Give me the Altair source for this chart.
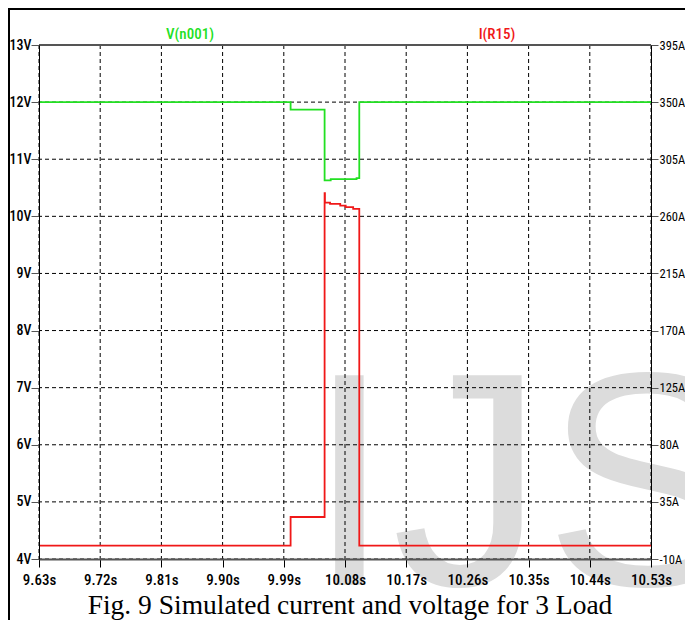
import altair as alt
import pandas as pd

# ---- data ----
x_ticks = [9.63, 9.72, 9.81, 9.90, 9.99, 10.08, 10.17, 10.26, 10.35, 10.44, 10.53]
v_ticks = [4, 5, 6, 7, 8, 9, 10, 11, 12, 13]
i_ticks = [-10, 35, 80, 125, 170, 215, 260, 305, 350, 395]

v_time = [9.63, 10.000, 10.050, 10.059, 10.097, 10.101, 10.53]
v_vals = [12.0, 11.87, 10.63, 10.65, 10.67, 12.0, 12.0]

i_time = [9.63, 10.000, 10.050, 10.0505, 10.058, 10.073, 10.081, 10.092, 10.101, 10.53]
i_vals = [0.6, 23.1, 278.3, 270.8, 269.8, 268.5, 267.2, 265.9, 0.6, 0.6]

series_names = ["V(n001)", "I(R15)"]
caption = ["Fig. 9 Simulated current and voltage for 3 Load"]
watermark = ["IJS"]

GREEN = "#22e022"
RED = "#f01818"
LFONT = "Roboto Condensed, Liberation Sans, sans-serif"

dfv = pd.DataFrame({"t": v_time, "v": v_vals})
dfi = pd.DataFrame({"t": i_time, "i": i_vals})

x_scale = alt.Scale(domain=[x_ticks[0], x_ticks[-1]], nice=False, zero=False)
yv_scale = alt.Scale(domain=[v_ticks[0], v_ticks[-1]], nice=False, zero=False)
yi_scale = alt.Scale(domain=[i_ticks[0], i_ticks[-1]], nice=False, zero=False)

x_axis = alt.Axis(values=x_ticks, labelExpr="format(datum.value, '.2f') + 's'",
                  title=None, grid=False, domainColor="#555555", domainWidth=2,
                  tickColor="black", tickSize=8, tickWidth=1,
                  labelFont=LFONT, labelFontSize=15, labelFontWeight=500,
                  labelColor="black",
                  labelPadding=5, labelOverlap=False, labelFlush=False, zindex=1)
yv_axis = alt.Axis(values=v_ticks, labelExpr="datum.value + 'V'", orient="left",
                   title=None, grid=False, domainColor="black", domainWidth=1,
                   tickColor="#555555", tickSize=8, tickWidth=1,
                   labelFont=LFONT, labelFontSize=14, labelFontWeight=500,
                   labelColor="black",
                   labelPadding=0, labelOverlap=False, labelFlush=False, zindex=1)
yi_axis = alt.Axis(values=i_ticks, labelExpr="datum.value + 'A'", orient="right",
                   title=None, grid=False, domainColor="black", domainWidth=1,
                   tickColor="#555555", tickSize=7, tickWidth=1,
                   labelFont=LFONT, labelFontSize=12.5, labelFontWeight="normal",
                   labelColor="black",
                   labelPadding=1, labelOverlap=False, labelFlush=False, zindex=1)

wm = alt.Chart(pd.DataFrame({"w": watermark})).mark_text(
    font="Liberation Sans", fontSize=305, color="#dcdcdc",
    align="left", baseline="alphabetic"
).encode(text="w:N", x=alt.value(268), y=alt.value(540))

vgrid = alt.Chart(pd.DataFrame({"t": x_ticks})).mark_rule(
    color="black", strokeWidth=1, strokeDash=[4, 3]
).encode(x=alt.X("t:Q", scale=x_scale, axis=x_axis))

hgrid = alt.Chart(pd.DataFrame({"v": v_ticks})).mark_rule(
    color="black", strokeWidth=1, strokeDash=[4, 3]
).encode(y=alt.Y("v:Q", scale=yv_scale, axis=yv_axis))

top_line = alt.Chart(pd.DataFrame({"v": [v_ticks[-1]]})).mark_rule(
    color="#555555", strokeWidth=2
).encode(y=alt.Y("v:Q", scale=yv_scale, axis=yv_axis))

green = alt.Chart(dfv).mark_line(
    color=GREEN, strokeWidth=1.8, interpolate="step-after"
).encode(x=alt.X("t:Q", scale=x_scale, axis=x_axis),
         y=alt.Y("v:Q", scale=yv_scale, axis=yv_axis))

leg_v = alt.Chart(pd.DataFrame({"n": [series_names[0]]})).mark_text(
    font=LFONT, fontSize=15, fontWeight=500, color=GREEN,
    align="center", baseline="middle"
).encode(text="n:N", x=alt.value(151), y=alt.value(-11))

leg_i = alt.Chart(pd.DataFrame({"n": [series_names[1]]})).mark_text(
    font=LFONT, fontSize=15, fontWeight=500, color=RED,
    align="center", baseline="middle"
).encode(text="n:N", x=alt.value(458), y=alt.value(-11))

cap = alt.Chart(pd.DataFrame({"c": caption})).mark_text(
    font="Liberation Serif", fontSize=27.5, color="black",
    align="center", baseline="alphabetic"
).encode(text="c:N", x=alt.value(311), y=alt.value(569))

frame_left = alt.Chart(pd.DataFrame({"k": [0]})).mark_rule(
    color="black", strokeWidth=2
).encode(x=alt.value(-30), y=alt.value(-37), y2=alt.value(575))
frame_top = alt.Chart(pd.DataFrame({"k": [0]})).mark_rule(
    color="black", strokeWidth=2
).encode(y=alt.value(-36), x=alt.value(-31), x2=alt.value(646))

left_group = alt.layer(wm, vgrid, hgrid, top_line, green, leg_v, leg_i, cap,
                       frame_left, frame_top)

red = alt.Chart(dfi).mark_line(
    color=RED, strokeWidth=1.8, interpolate="step-after"
).encode(x=alt.X("t:Q", scale=x_scale, axis=x_axis),
         y=alt.Y("i:Q", scale=yi_scale, axis=yi_axis))

chart = alt.layer(left_group, red).resolve_scale(y="independent").properties(
    width=612, height=514,
    autosize=alt.AutoSizeParams(type="none"),
    padding={"left": 31, "top": 37, "right": 34, "bottom": 61},
    background="white",
).configure_view(stroke=None)

chart.save("out.html", embed_options={"renderer": "svg", "actions": False})
